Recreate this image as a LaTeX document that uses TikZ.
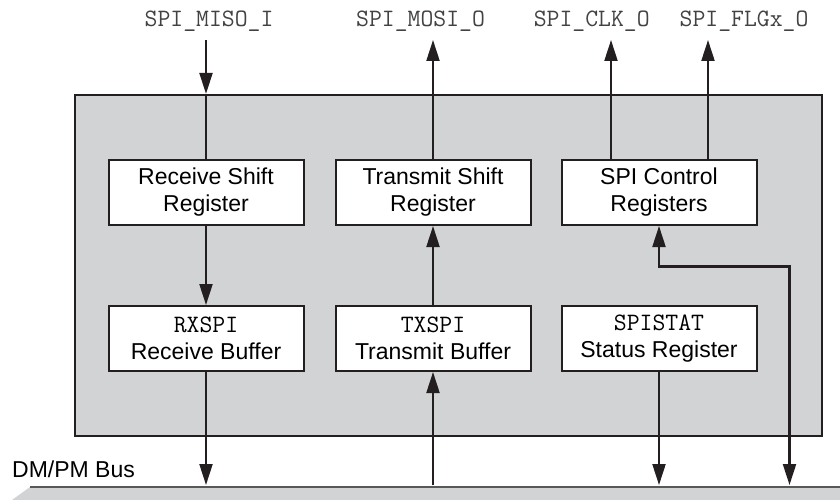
\documentclass[tikz,border=0pt]{standalone}
\usepackage{fontspec}
\setmainfont{Liberation Sans}
\usetikzlibrary{arrows.meta,positioning}
\definecolor{panelgray}{RGB}{209,211,212}
\definecolor{inkblack}{RGB}{35,31,32}
\newcommand{\regname}[1]{{\fontsize{25}{28}\selectfont\ttfamily #1}}

\begin{document}
\begin{tikzpicture}
   [x=1pt, y=-1pt,
    reg/.style={rectangle, draw=inkblack, fill=white, line width=2pt,
                minimum width=195pt, minimum height=65pt, align=center,
                font=\fontsize{23}{27}\selectfont},
    pinlabel/.style={anchor=base, inner sep=0pt, text=inkblack!85,
                     font=\fontsize{25}{25}\selectfont\ttfamily},
    sig/.style={draw=inkblack, line width=2.1pt},
    arr/.style={sig, -{Triangle[length=21pt, width=13pt]}},
    biarr/.style={sig, {Triangle[length=21pt, width=13pt]}-{Triangle[length=21pt, width=13pt]}}]
     \useasboundingbox (0,0) rectangle (840,500);
     % draw peripheral panel
     \node (core) at (448.5,265.5) [rectangle, draw=inkblack, fill=panelgray,
                       line width=2.2pt, minimum width=747pt, minimum height=341pt] {};
     % draw registers
     \node (rxshift) at (206,192.5) [reg] {Receive Shift\\Register};
     \node (txshift) at (433,192.5) [reg] {Transmit Shift\\Register};
     \node (spictl)  at (659,192.5) [reg] {SPI Control\\Registers};
     \node (rxbuf)   at (206,338.5) [reg] {\regname{RXSPI}\\Receive Buffer};
     \node (txbuf)   at (433,338.5) [reg] {\regname{TXSPI}\\Transmit Buffer};
     \node (spistat) at (659,338.5) [reg] {\regname{SPISTAT}\\Status Register};
     % draw pin names
     \foreach \n/\lx/\ax/\txt in {miso/209/206/SPI\_MISO\_I, mosi/420.5/433/SPI\_MOSI\_O,
                                  clk/591.7/611/SPI\_CLK\_O, flg/744/708/SPI\_FLGx\_O} {
       \node (\n) at (\lx,27) [pinlabel] {\txt};
       \coordinate (\n End) at (\ax,40);
     };
     % draw bus
     \coordinate (bus) at (0,485);
     \coordinate (bend) at (789.5,266.5);
     \fill [panelgray] (30,487) -- (840,487) -- (840,500) -- (12,500) -- cycle;
     \draw [line width=2.4pt, draw=inkblack!75] (30,487) -- (840,487);
     \node (busname) at (12,477) [anchor=base west, inner sep=0pt,
                                  font=\fontsize{23}{23}\selectfont] {DM/PM Bus};
     % draw data paths
     \draw [arr] (misoEnd) -- (rxshift.north |- core.north);
     \draw [sig] (rxshift.north |- core.north) -- (rxshift.north);
     \draw [arr] (rxshift) -- (rxbuf);
     \draw [arr] (rxbuf) -- (rxbuf |- bus);
     \draw [arr] (txbuf |- bus) -- (txbuf);
     \draw [arr] (txbuf) -- (txshift);
     \draw [arr] (txshift) -- (mosiEnd);
     \draw [arr] (spictl.north -| clkEnd) -- (clkEnd);
     \draw [arr] (spictl.north -| flgEnd) -- (flgEnd);
     \draw [arr] (spistat) -- (spistat |- bus);
     \draw [biarr] (spictl) |- (bend) -- (bend |- bus);
 \end{tikzpicture}
\end{document}
